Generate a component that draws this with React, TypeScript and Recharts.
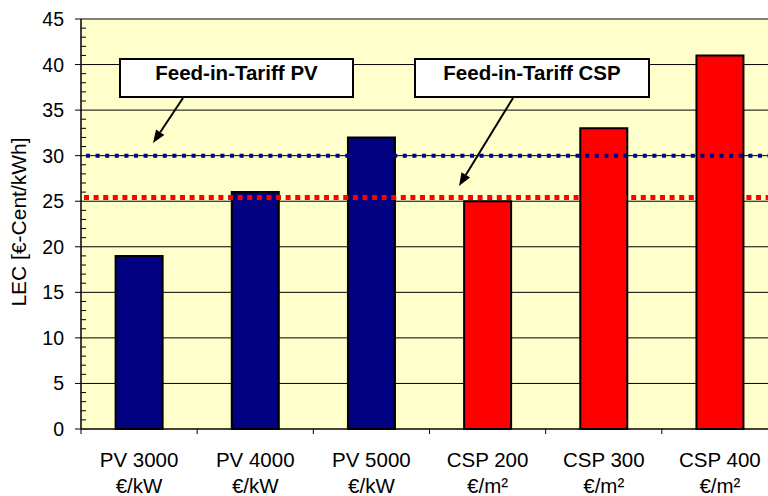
import React from 'react';
import { BarChart, Bar, XAxis, YAxis, CartesianGrid, ReferenceLine, Cell } from 'recharts';

const categories = ['PV 3000', 'PV 4000', 'PV 5000', 'CSP 200', 'CSP 300', 'CSP 400'];
const units = ['€/kW', '€/kW', '€/kW', '€/m²', '€/m²', '€/m²'];
const lecValues = [19, 26, 32, 25, 33, 41];
const barColors = ['#000080', '#000080', '#000080', '#FF0000', '#FF0000', '#FF0000'];
const majorTicks = [0, 5, 10, 15, 20, 25, 30, 35, 40, 45];
const gridValues = [5, 10, 15, 20, 25, 30, 35, 40];
const allTicks = Array.from({ length: 46 }, (_, i) => i);
const tariffPV = 30;
const tariffCSP = 25.4;
const yLabel = 'LEC [€-Cent/kWh]';
const notePV = 'Feed-in-Tariff PV';
const noteCSP = 'Feed-in-Tariff CSP';

const data = categories.map((name, i) => ({ name, lec: lecValues[i] }));

const FONT = '"Liberation Sans", Arial, sans-serif';
const CHART_W = 790;
const CHART_H = 496;
const MARGIN = { top: 19, right: 12, bottom: 0, left: 0 };
const Y_AXIS_W = 81;
const X_AXIS_H = 67;
const PLOT_W = CHART_W - MARGIN.left - MARGIN.right - Y_AXIS_W;

const YTick = (props: any) => {
  const { x, y, payload } = props;
  const v = payload.value;
  const axisX = x + 17;
  const major = majorTicks.includes(v);
  return (
    <g>
      {major ? (
        <line x1={axisX - 6} x2={axisX} y1={y} y2={y} stroke="#000" strokeWidth={1} />
      ) : (
        <line x1={axisX} x2={axisX + 5} y1={y} y2={y} stroke="#000" strokeWidth={1} />
      )}
      {major && (
        <text x={x} y={y} dy="0.36em" textAnchor="end" fontSize={19.5} fontFamily={FONT} fill="#000">
          {v}
        </text>
      )}
    </g>
  );
};

const XTick = (props: any) => {
  const { x, y, payload } = props;
  const idx = categories.indexOf(payload.value);
  const half = PLOT_W / categories.length / 2;
  return (
    <g>
      <line x1={x - half} x2={x - half} y1={y - 5} y2={y} stroke="#000" strokeWidth={1} />
      <text x={x} y={y + 33} textAnchor="middle" fontSize={20.5} fontFamily={FONT} fill="#000">
        {payload.value}
      </text>
      <text x={x} y={y + 59} textAnchor="middle" fontSize={20.5} fontFamily={FONT} fill="#000">
        {units[idx]}
      </text>
    </g>
  );
};

const Arrow = ({ x1, y1, x2, y2 }: { x1: number; y1: number; x2: number; y2: number }) => {
  const dx = x2 - x1;
  const dy = y2 - y1;
  const len = Math.sqrt(dx * dx + dy * dy);
  const ux = dx / len;
  const uy = dy / len;
  const hl = 13;
  const hw = 5;
  const bx = x2 - ux * hl;
  const by = y2 - uy * hl;
  const p1 = `${bx - uy * hw},${by + ux * hw}`;
  const p2 = `${bx + uy * hw},${by - ux * hw}`;
  return (
    <g>
      <line x1={x1} y1={y1} x2={bx} y2={by} stroke="#000" strokeWidth={2} />
      <polygon points={`${x2},${y2} ${p1} ${p2}`} fill="#000" />
    </g>
  );
};

const NoteBox = ({ x, y, w, h, text }: { x: number; y: number; w: number; h: number; text: string }) => (
  <g>
    <rect x={x} y={y} width={w} height={h} fill="#fff" stroke="#000" strokeWidth={2} />
    <text x={x + w / 2} y={y + 21} textAnchor="middle" fontSize={20.5} fontWeight="bold" fontFamily={FONT} fill="#000">
      {text}
    </text>
  </g>
);

export default function App() {
  return (
    <div style={{ position: 'absolute', left: 0, top: 0, width: 768, height: 496, overflow: 'hidden', background: '#fff' }}>
      <BarChart width={CHART_W} height={CHART_H} data={data} margin={MARGIN} barCategoryGap="29.8%">
        <CartesianGrid
          vertical={false}
          horizontalValues={gridValues}
          stroke="#000"
          strokeWidth={1}
          fill="#FFFFCC"
          fillOpacity={1}
        />
        <XAxis
          dataKey="name"
          height={X_AXIS_H}
          tickSize={5}
          tickMargin={0}
          tickLine={false}
          tick={<XTick />}
          interval={0}
          axisLine={{ stroke: '#000', strokeWidth: 1.5 }}
        />
        <YAxis
          type="number"
          domain={[0, 45]}
          ticks={allTicks}
          interval={0}
          width={Y_AXIS_W}
          tickSize={6}
          tickMargin={11}
          tickLine={false}
          tick={<YTick />}
          axisLine={{ stroke: '#000', strokeWidth: 1.5 }}
        />
        <Bar dataKey="lec" stroke="#000" strokeWidth={2} isAnimationActive={false}>
          {data.map((d, i) => (
            <Cell key={d.name} fill={barColors[i]} />
          ))}
        </Bar>
        <ReferenceLine y={45} stroke="#808080" strokeWidth={2} />
        <ReferenceLine y={tariffCSP} stroke="#FF0000" strokeWidth={5} strokeDasharray="5 4.6" strokeDashoffset={-3} />
        <ReferenceLine y={tariffPV} stroke="#000080" strokeWidth={4} strokeDasharray="4 5.6" strokeDashoffset={-5} />
      </BarChart>
      <svg style={{ position: 'absolute', left: 0, top: 0 }} width={768} height={496}>
        <text
          x={26}
          y={222}
          transform="rotate(-90, 26, 222)"
          textAnchor="middle"
          fontSize={21}
          fontFamily={FONT}
          fill="#000"
        >
          {yLabel}
        </text>
        <NoteBox x={120} y={59} w={233} h={38} text={notePV} />
        <NoteBox x={415} y={59} w={234} h={38} text={noteCSP} />
        <Arrow x1={183} y1={98} x2={153} y2={143} />
        <Arrow x1={513} y1={98} x2={459} y2={186} />
      </svg>
    </div>
  );
}
